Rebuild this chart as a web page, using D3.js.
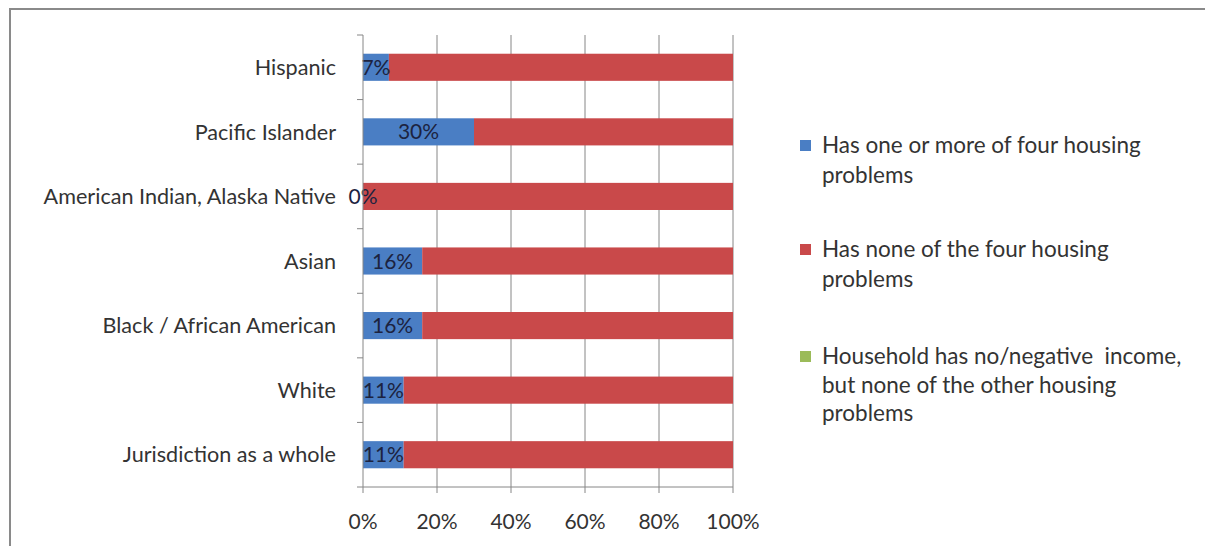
<!DOCTYPE html>
<html><head><meta charset="utf-8">
<script src="https://cdn.jsdelivr.net/npm/d3@7"></script>
<style>
html,body{margin:0;padding:0;background:#fff;}
svg{display:block;}
text{font-family:Lato,"Open Sans",sans-serif;}
</style></head>
<body>
<svg id="chart" width="1205" height="546"></svg>
<script>
const categories = ["Hispanic","Pacific Islander","American Indian, Alaska Native","Asian","Black / African American","White","Jurisdiction as a whole"];
const hasProblems = [7,30,0,16,16,11,11];
const noProblems = [93,70,100,84,84,89,89];
const noIncome = [0,0,0,0,0,0,0];
const seriesNames = ["Has one or more of four housing problems","Has none of the four housing problems","Household has no/negative income, but none of the other housing problems"];
const legendLines = [["Has one or more of four housing","problems"],["Has none of the four housing","problems"],["Household has no/negative  income,","but none of the other housing","problems"]];
const xTicks = [0,20,40,60,80,100];
const colors = ["#4a7ec4","#c9494a","#9bbb59"];

const svg = d3.select("#chart");
// frame
svg.append("path").attr("d","M10,546 V9 H1205").attr("fill","none").attr("stroke","#8a8a8a").attr("stroke-width",2);

const x = d3.scaleLinear().domain([0,100]).range([363,733]);
const slot = d3.scaleBand().domain(categories).range([35,487]);
const barPad = 0.29;
const fs = 21;
const cfs = 21.6;
const lfs = 22.5;

// gridlines
svg.append("g").selectAll("line").data(xTicks.slice(1)).join("line")
  .attr("x1",d=>x(d)).attr("x2",d=>x(d)).attr("y1",35).attr("y2",487)
  .attr("stroke","#868686").attr("stroke-width",1);

// stacked bars
const stackData = categories.map((c,i)=>({cat:c,a:hasProblems[i],b:noProblems[i],c:noIncome[i]}));
const stack = d3.stack().keys(["a","b","c"])(stackData);
stack.forEach((layer,k)=>{
  svg.append("g").selectAll("rect").data(layer).join("rect")
    .attr("x",d=>x(d[0])).attr("width",d=>x(d[1])-x(d[0]))
    .attr("y",d=>slot(d.data.cat)+slot.bandwidth()*barPad)
    .attr("height",slot.bandwidth()*(1-2*barPad))
    .attr("fill",colors[k]);
});

// data labels
svg.append("g").selectAll("text").data(stack[0]).join("text")
  .attr("x",d=>(x(d[0])+x(d[1]))/2)
  .attr("y",d=>slot(d.data.cat)+slot.bandwidth()/2)
  .attr("dy","0.36em").attr("text-anchor","middle")
  .attr("font-size",fs).attr("fill","#1c2340")
  .text(d=>d.data.a+"%");

// left axis
const ax = svg.append("g").attr("stroke","#868686").attr("stroke-width",1);
ax.append("line").attr("x1",363).attr("x2",363).attr("y1",35).attr("y2",487);
const bounds = categories.map(c=>slot(c)).concat([487]);
ax.selectAll("line.t").data(bounds).join("line").attr("class","t")
  .attr("x1",357).attr("x2",363).attr("y1",d=>d).attr("y2",d=>d);
// bottom axis
ax.append("line").attr("x1",363).attr("x2",733).attr("y1",487).attr("y2",487);
ax.selectAll("line.b").data(xTicks).join("line").attr("class","b")
  .attr("x1",d=>x(d)).attr("x2",d=>x(d)).attr("y1",487).attr("y2",493);

svg.append("g").selectAll("text").data(xTicks).join("text")
  .attr("x",d=>x(d)).attr("y",521).attr("dy","0.36em").attr("text-anchor","middle")
  .attr("font-size",fs).attr("fill","#333").text(d=>d+"%");

svg.append("g").selectAll("text").data(categories).join("text")
  .attr("x",336).attr("y",d=>slot(d)+slot.bandwidth()/2).attr("dy","0.36em")
  .attr("text-anchor","end").attr("font-size",cfs).attr("fill","#333").text(d=>d);

// legend
const legY = [[145,175],[249,279],[356,385,413]];
seriesNames.forEach((s,i)=>{
  const g = svg.append("g");
  g.append("rect").attr("x",800).attr("y",legY[i][0]-5).attr("width",11).attr("height",11).attr("fill",colors[i]);
  legendLines[i].forEach((ln,j)=>{
    g.append("text").attr("x",822).attr("y",legY[i][j]).attr("dy","0.36em")
     .attr("font-size",lfs).attr("fill","#333").style("white-space","pre").text(ln);
  });
});
</script>
</body></html>
